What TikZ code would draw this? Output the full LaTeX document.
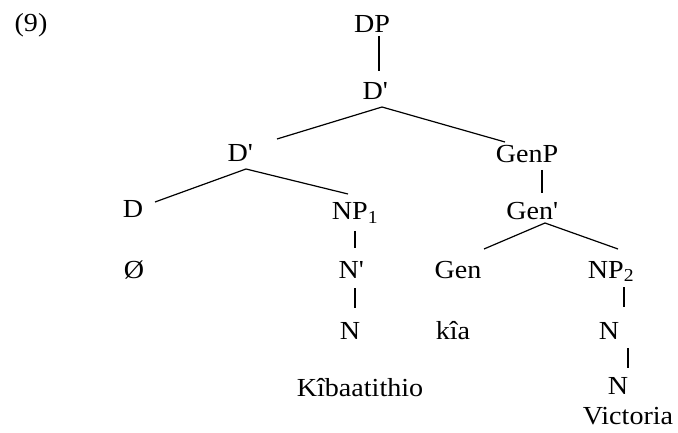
\documentclass[tikz,border=0pt]{standalone}
\usepackage{fontspec}
\setmainfont[FakeStretch=1.08]{Liberation Serif}
\usetikzlibrary{calc}
\newcommand{\xbar}{\textquotesingle}
\begin{document}
\begin{tikzpicture}[x=1pt,y=-1pt,
  lbl/.style={anchor=base,inner sep=0pt,font=\fontsize{26}{30}\selectfont},
  edge/.style={line width=1.2pt,black}]
\useasboundingbox (0,0) rectangle (678,433);
% labels of the tree
\node[lbl] (ex)   at (31,32)   {(9)};
\node[lbl] (dp)   at (372,33)  {DP};
\node[lbl] (db1)  at (375,100) {D\xbar};
\node[lbl] (db2)  at (240,162) {D\xbar};
\node[lbl] (genp) at (527,163) {GenP};
\node[lbl] (d)    at (133,218) {D};
\node[lbl] (np1)  at (355,220) {NP\textsubscript{1}};
\node[lbl] (genb) at (532,220) {Gen\xbar};
\node[lbl] (null) at (134,278) {Ø};
\node[lbl] (nb)   at (351,278) {N\xbar};
\node[lbl] (gen)  at (458,278) {Gen};
\node[lbl] (np2)  at (611,278) {NP\textsubscript{2}};
\node[lbl] (n1)   at (350,339) {N};
\node[lbl] (kia)  at (453,339) {kîa};
\node[lbl] (n2)   at (609,339) {N};
\node[lbl] (kib)  at (360,396) {Kîbaatithio};
\node[lbl] (n3)   at (618,394) {N};
\node[lbl] (vic)  at (628,424) {Victoria};
% branches
\draw[edge] ($(dp.base)+(7,3)$)    -- ($(db1.base)+(4,-29)$);
\draw[edge] ($(db1.base)+(7,7)$)   -- ($(db2.base)+(37,-23)$);
\draw[edge] ($(db1.base)+(7,7)$)   -- ($(genp.base)+(-22,-21)$);
\draw[edge] ($(db2.base)+(6,7)$)   -- ($(d.base)+(22,-16)$);
\draw[edge] ($(db2.base)+(6,7)$)   -- ($(np1.base)+(-7,-26)$);
\draw[edge] ($(np1.base)+(0,11)$)  -- ($(nb.base)+(4,-30)$);
\draw[edge] ($(nb.base)+(4,10)$)   -- ($(n1.base)+(5,-31)$);
\draw[edge] ($(genp.base)+(15,7)$) -- ($(genb.base)+(10,-27)$);
\draw[edge] ($(genb.base)+(13,3)$) -- ($(gen.base)+(26,-29)$);
\draw[edge] ($(genb.base)+(13,3)$) -- ($(np2.base)+(7,-29)$);
\draw[edge] ($(np2.base)+(13,9)$)  -- ($(n2.base)+(15,-32)$);
\draw[edge] ($(n2.base)+(19,9)$)   -- ($(n3.base)+(10,-26)$);
\end{tikzpicture}
\end{document}
